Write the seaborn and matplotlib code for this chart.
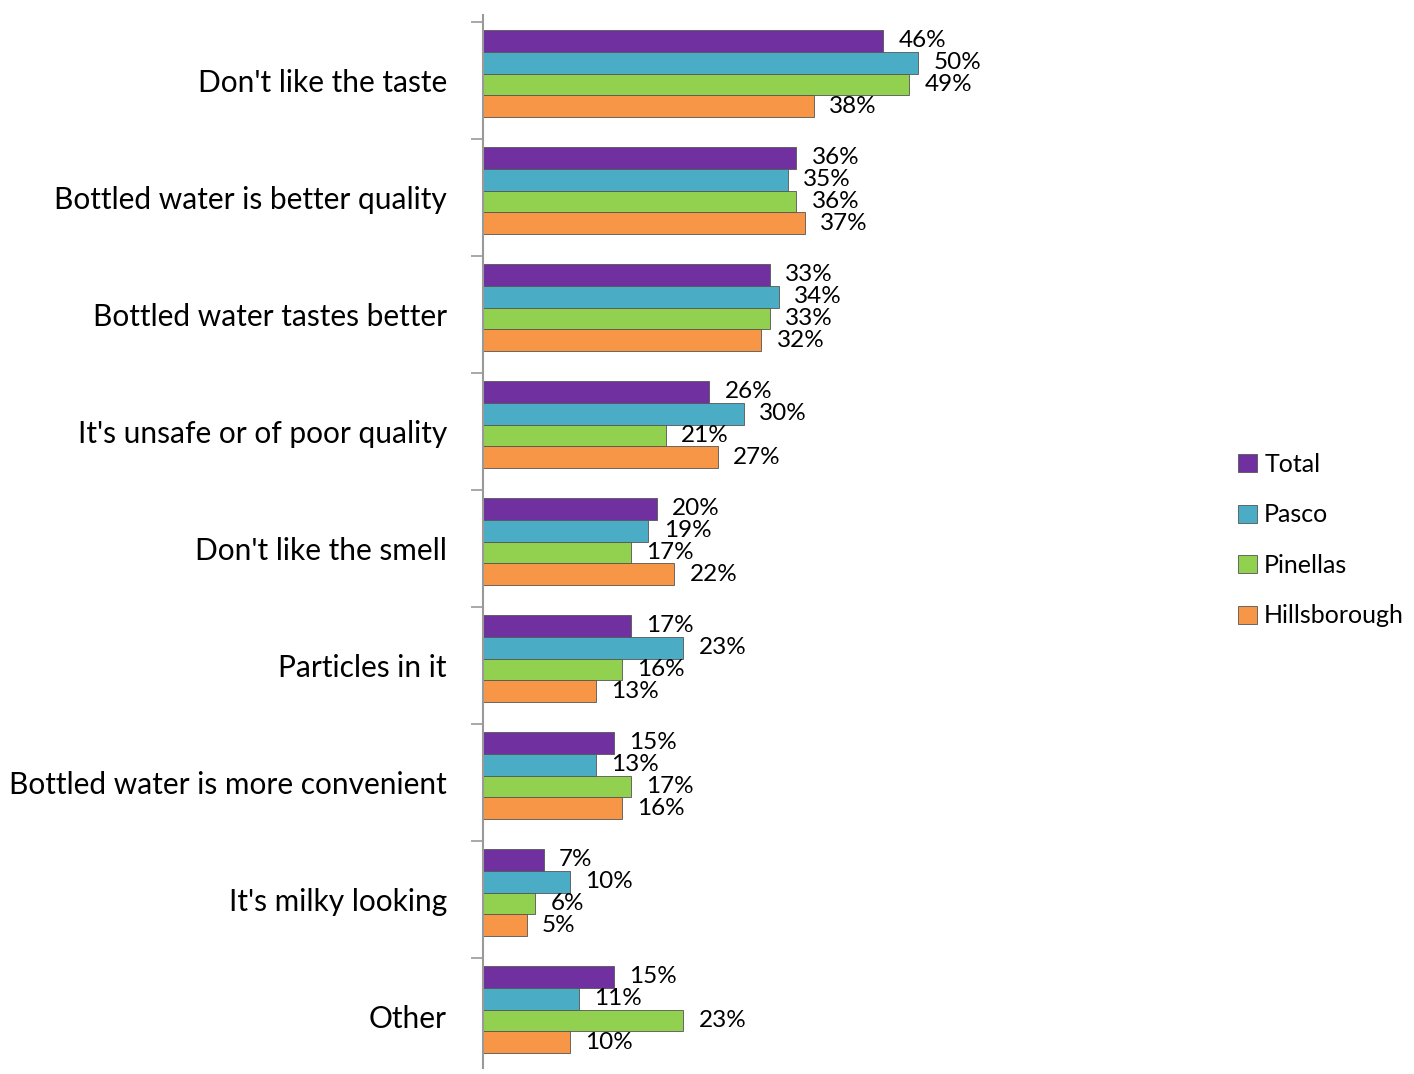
import pandas as pd
import numpy as np
import matplotlib.pyplot as plt
import matplotlib.transforms as mtransforms
import seaborn as sns

# data
reasons = ["Don't like the taste", "Bottled water is better quality", "Bottled water tastes better",
           "It's unsafe or of poor quality", "Don't like the smell", "Particles in it",
           "Bottled water is more convenient", "It's milky looking", "Other"]
total = [46, 36, 33, 26, 20, 17, 15, 7, 15]
pasco = [50, 35, 34, 30, 19, 23, 13, 10, 11]
pinellas = [49, 36, 33, 21, 17, 16, 17, 6, 23]
hillsborough = [38, 37, 32, 27, 22, 13, 16, 5, 10]
groups = ["Total", "Pasco", "Pinellas", "Hillsborough"]
colors = ["#7030A0", "#4BACC6", "#92D050", "#F79646"]

df = pd.DataFrame({"reason": reasons, "Total": total, "Pasco": pasco,
                   "Pinellas": pinellas, "Hillsborough": hillsborough})
df_long = df.melt(id_vars=["reason"], var_name="group", value_name="pct")

sns.set_style("white")
plt.rcParams['font.family'] = ['Lato', 'DejaVu Sans']
plt.rcParams['text.color'] = 'black'
plt.rcParams['ytick.color'] = 'black'

fig = plt.figure(figsize=(14.14, 10.74), dpi=100)
ax = fig.add_axes([483 / 1414, 6 / 1074, 717 / 1414, 1 - 21 / 1074])

sns.barplot(data=df_long, x="pct", y="reason", hue="group", hue_order=groups,
            palette=colors, saturation=1, orient="h", width=0.75, ax=ax,
            edgecolor="#555555", linewidth=0.6)

for cont in ax.containers:
    ax.bar_label(cont, fmt="%d%%", padding=11, fontsize=17.5)

ax.set_xlim(0, 82.4)
ax.set_ylim(8.5, -0.5)
ax.set_xlabel("")
ax.set_ylabel("")
ax.set_xticks([])
ax.tick_params(axis="y", which="major", left=False, length=0, pad=26, labelsize=21.5)
ax.set_yticks(np.arange(-0.5, 9.0, 1.0), minor=True)
ax.tick_params(axis="y", which="minor", left=True, length=9, color="#999999", width=1.2)
for s in ["top", "right", "bottom"]:
    ax.spines[s].set_visible(False)
ax.spines["left"].set_color("#999999")
ax.spines["left"].set_linewidth(1.5)

# the labels and group ticks sit a little lower than the bars (3D look in the original)
shift = mtransforms.ScaledTranslation(0, -7 / 100, fig.dpi_scale_trans)
for lab in ax.get_yticklabels():
    lab.set_transform(lab.get_transform() + shift)
for t in ax.yaxis.get_minor_ticks():
    t.tick1line.set_transform(t.tick1line.get_transform() + shift)

leg = ax.legend(loc="center left", bbox_to_anchor=(1238 / 1414, 0.497), bbox_transform=fig.transFigure,
                frameon=False, fontsize=18, labelspacing=1.1, handlelength=0.75, handleheight=0.75,
                handletextpad=0.3, borderpad=0, borderaxespad=0)

fig.savefig("out.png", dpi=100)
